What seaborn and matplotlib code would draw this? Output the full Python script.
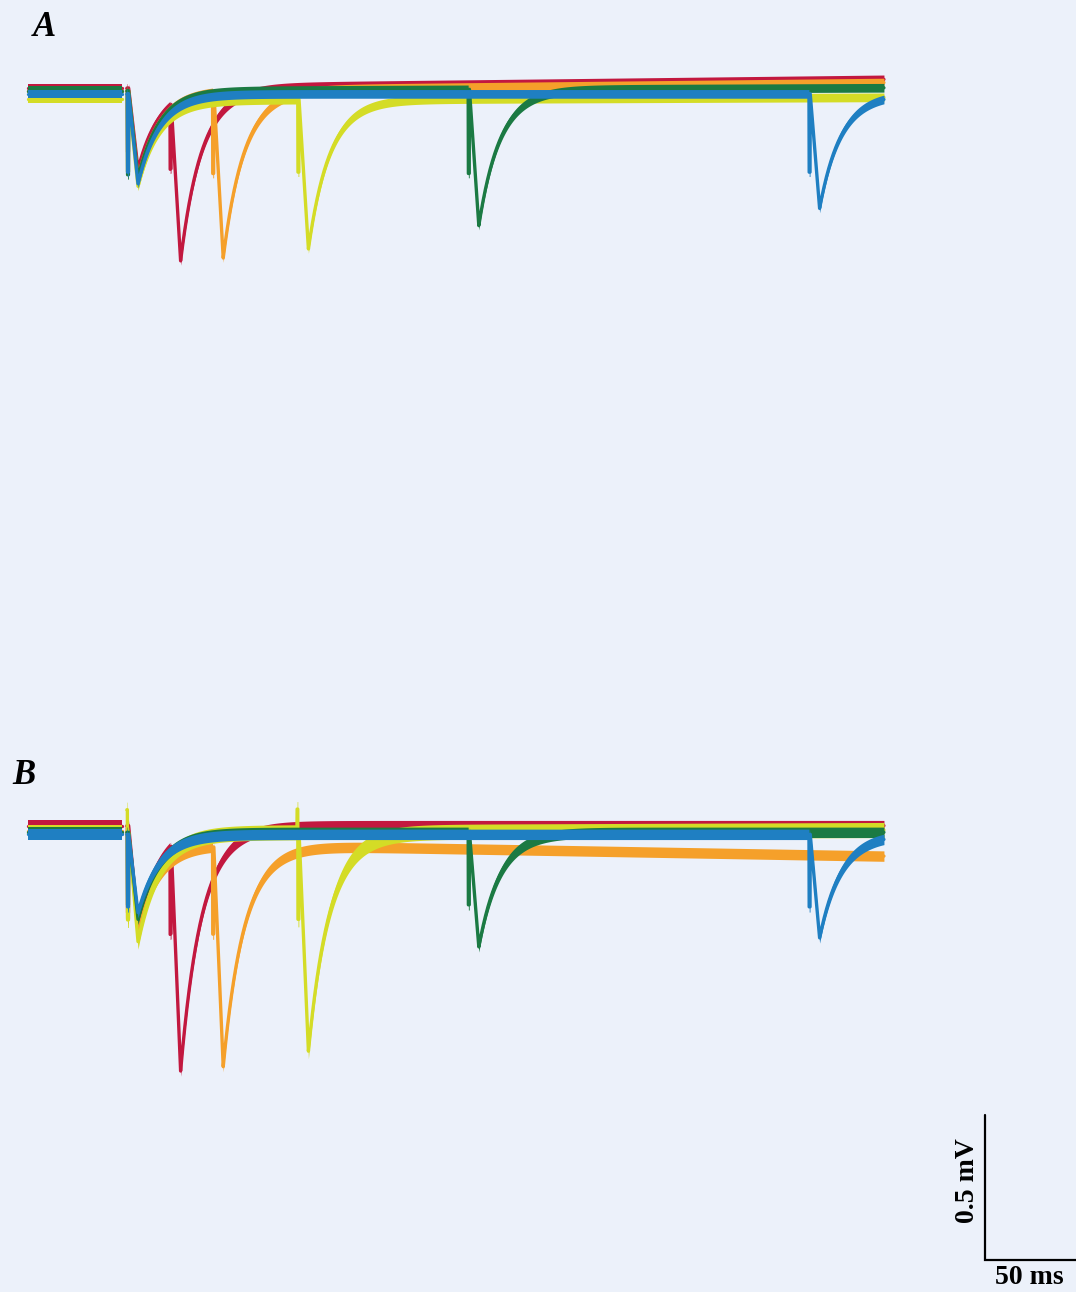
import numpy as np
import pandas as pd
import matplotlib
matplotlib.use("Agg")
import matplotlib.pyplot as plt
import seaborn as sns

# ---- recordings: paired-pulse responses at five inter-stimulus intervals ----
TRACES = ["ISI 20 ms", "ISI 40 ms", "ISI 80 ms", "ISI 160 ms", "ISI 320 ms"]
ISI_MS = [20, 40, 80, 160, 320]
COLORS = ["#c2183f", "#f5a02a", "#d4dc26", "#1b7a43", "#1f7fc2"]

# Panel A (mV, negative-going responses)
A_FIRST_MV = [0.28, 0.30, 0.30, 0.30, 0.31]
A_SECOND_MV = [0.56, 0.575, 0.515, 0.47, 0.395]
A_BASE_MV = [0.017, 0.008, -0.020, 0.008, -0.003]
A_TAIL_MV = [0.0, 0.0, -0.005, 0.0, 0.0]
A_DRIFT_MV = [0.030, 0.028, 0.010, 0.010, 0.0]
A_ART_MV = [0.22, 0.28, 0.25, 0.29, 0.27]
A_ART_UP_MV = [0.0, 0.0, 0.0, 0.0, 0.0]
A_NOISE_MV = [0.015, 0.015, 0.015, 0.015, 0.015]

# Panel B
B_FIRST_MV = [0.34, 0.33, 0.375, 0.30, 0.27]
B_SECOND_MV = [0.80, 0.76, 0.755, 0.395, 0.357]
B_BASE_MV = [0.015, -0.005, -0.010, -0.008, -0.015]
B_TAIL_MV = [0.0, -0.040, 0.0, 0.0, 0.0]
B_DRIFT_MV = [0.0, -0.045, 0.010, 0.0, 0.0]
B_ART_MV = [0.30, 0.30, 0.30, 0.25, 0.25]
B_ART_UP_MV = [0.0, 0.0, 0.08, 0.0, 0.0]
B_NOISE_MV = [0.018, 0.018, 0.026, 0.018, 0.018]

# sweep timing (ms, relative to first stimulus); artefact period blanked
SEGMENTS = [(-47.0, -2.8), (-0.5, 355.0)]
DT = 0.1
LATENCY, T_RISE, TAU_DECAY, TAU_TAIL = 0.3, 4.4, 10.0, 10.0
T_END = 355.0

BG = "#ecf1fa"


def epsp(s):
    """Synaptic waveform with unit peak: linear onset, exponential recovery."""
    s = s - LATENCY
    rise = np.clip(s / T_RISE, 0.0, 1.0)
    decay = np.exp(-np.clip(s - T_RISE, 0.0, None) / TAU_DECAY)
    return np.where(s <= 0, 0.0, np.where(s < T_RISE, rise, decay))


def build_panel(first, second, base, tail, drift, art, art_up):
    frames = []
    for name, isi, a1, a2, b, tl, dr, ar, au in zip(
            TRACES, ISI_MS, first, second, base, tail, drift, art, art_up):
        for seg, (t0, t1) in enumerate(SEGMENTS):
            t = np.arange(t0, t1, DT)
            v = np.full_like(t, b)
            if seg == 1:
                tp = np.clip(t, 0, None)
                v += tl * (1 - np.exp(-tp / TAU_TAIL)) + dr * tp / T_END
                for ts, amp in ((0.0, a1), (float(isi), a2)):
                    v -= amp * epsp(t - ts)
                    v -= ar * (np.abs(t - ts) < 0.25)
                    v += au * (((t - ts) > -0.7) & ((t - ts) < -0.3))
            frames.append(pd.DataFrame({"trace": name, "segment": seg,
                                        "time": t, "mv": v}))
    return pd.concat(frames, ignore_index=True)


panel_a = build_panel(A_FIRST_MV, A_SECOND_MV, A_BASE_MV, A_TAIL_MV,
                      A_DRIFT_MV, A_ART_MV, A_ART_UP_MV)
panel_b = build_panel(B_FIRST_MV, B_SECOND_MV, B_BASE_MV, B_TAIL_MV,
                      B_DRIFT_MV, B_ART_MV, B_ART_UP_MV)

sns.set_theme(style="white")
plt.rcParams["font.family"] = ["Liberation Serif", "DejaVu Serif"]
plt.rcParams["text.color"] = "black"

W, H = 1076, 1292
fig = plt.figure(figsize=(W / 100, H / 100), dpi=100, facecolor=BG)

PX_PER_MS = 2.13
PX_PER_MV = 290.0
X0 = 128.0
XLIM = ((0 - X0) / PX_PER_MS, (W - X0) / PX_PER_MS)

# axes rectangles in pixels: (top, bottom, baseline row)
layout = {"A": (0, 640, 93), "B": (640, H, 830)}
axes = {}
for key, (top, bot, base_px) in layout.items():
    ax = fig.add_axes([0, 1 - bot / H, 1, (bot - top) / H])
    ymax = (base_px - top) / PX_PER_MV
    ax.set_xlim(*XLIM)
    ax.set_ylim(ymax - (bot - top) / PX_PER_MV, ymax)
    ax.set_axis_off()
    ax.patch.set_alpha(0)
    axes[key] = ax


def draw(ax, df, noise):
    for i, name in enumerate(TRACES):
        sub = df[df["trace"] == name]
        for seg in sorted(sub["segment"].unique()):
            part = sub[sub["segment"] == seg]
            ax.fill_between(part["time"], part["mv"] - noise[i], part["mv"] + noise[i],
                            color=COLORS[i], lw=0, zorder=2 + i)
        sns.lineplot(data=sub, x="time", y="mv", units="segment", estimator=None,
                     color=COLORS[i], lw=2.4, sort=False, legend=False,
                     zorder=2.5 + i, ax=ax)
    ax.set_xlabel("")
    ax.set_ylabel("")


draw(axes["A"], panel_a, A_NOISE_MV)
draw(axes["B"], panel_b, B_NOISE_MV)
for ax in axes.values():
    ax.set_xlim(*XLIM)

# scale bar: 0.5 mV / 50 ms
axb = axes["B"]
sb_t = (985 - X0) / PX_PER_MS
sb_top = (830 - 640) / PX_PER_MV - (1115 - 640) / PX_PER_MV
axb.plot([sb_t, sb_t, sb_t + 50], [sb_top, sb_top - 0.5, sb_top - 0.5],
         color="black", lw=1.6, solid_joinstyle="miter", zorder=10)

fig.text(967 / W, 1 - 1181 / H, "0.5 mV", rotation=90, ha="center", va="center",
         fontsize=20, fontweight="bold", color="black")
fig.text(1029 / W, 1 - 1278 / H, "50 ms", ha="center", va="center",
         fontsize=20, fontweight="bold", color="black")

fig.text(44 / W, 1 - 27 / H, "A", ha="center", va="center", fontsize=25,
         fontweight="bold", fontstyle="italic", color="black")
fig.text(24 / W, 1 - 775 / H, "B", ha="center", va="center", fontsize=25,
         fontweight="bold", fontstyle="italic", color="black")

fig.savefig("out.png", dpi=100, facecolor=BG)
